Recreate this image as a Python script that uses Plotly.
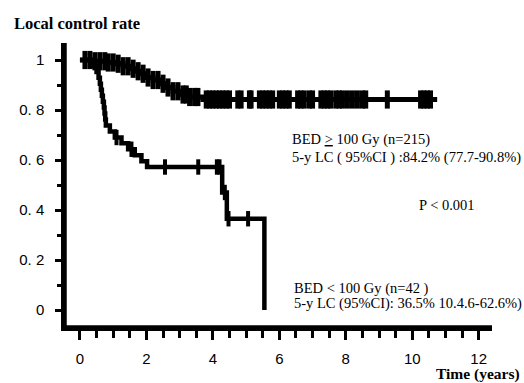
import numpy as np
import plotly.graph_objects as go

# ---- data ----
up_t = [0, 0.4, 0.8, 1.1, 1.3, 1.5, 1.7, 1.85, 2.0, 2.2, 2.4, 2.6, 2.8, 3.0, 3.3, 3.7, 10.75]
up_s = [1.0, 0.995, 0.99, 0.985, 0.975, 0.965, 0.955, 0.945, 0.93, 0.92, 0.905, 0.89, 0.875, 0.862, 0.852, 0.842, 0.842]
up_censor = [0.15, 0.3, 0.45, 0.6, 0.75, 0.85, 1.0, 1.15, 1.3, 1.45, 1.6, 1.75, 1.9, 2.05, 2.2,
             2.35, 2.5, 2.65, 2.8, 2.95, 3.1, 3.2, 3.3, 3.45, 3.55, 3.8, 3.9, 4.0, 4.1, 4.2,
             4.3, 4.4, 4.5, 4.75, 4.85, 5.1, 5.15, 5.4, 5.5, 5.6, 5.7, 5.8, 6.0, 6.1, 6.2,
             6.3, 6.55, 6.65, 6.75, 6.9, 7.0, 7.25, 7.35, 7.45, 7.55, 7.7, 7.8, 7.9, 8.05,
             8.2, 8.35, 8.5, 8.6, 9.25, 10.25, 10.35, 10.45, 10.55]

lo_t = [0, 0.4, 0.5, 0.56, 0.6, 0.63, 0.66, 0.69, 0.72, 0.74, 0.76, 0.78, 0.9, 1.05, 1.25,
        1.45, 1.65, 1.85, 2.02, 4.28, 4.42, 5.55]
lo_s = [1.0, 0.976, 0.952, 0.929, 0.905, 0.881, 0.857, 0.833, 0.81, 0.786, 0.762, 0.738,
        0.714, 0.69, 0.667, 0.643, 0.619, 0.595, 0.572, 0.47, 0.365, 0.0]
lo_censor = [1.1, 1.55, 2.56, 3.56, 4.12, 4.2, 4.36, 4.47, 5.06]

y_ticks = [0, 0.2, 0.4, 0.6, 0.8, 1]
y_ticktext = ["0", "0. 2", "0. 4", "0. 6", "0. 8", "1"]
x_ticks = [0, 2, 4, 6, 8, 10, 12]


def step_value(ts, ss, t):
    i = np.searchsorted(np.array(ts), t, side="right") - 1
    return ss[max(i, 0)]


SERIF = "Liberation Serif, Times New Roman, serif"
SANS = "Liberation Sans, Arial, sans-serif"

fig = go.Figure()
fig.add_trace(go.Scatter(x=up_t, y=up_s, mode="lines", line=dict(color="black", width=5, shape="hv"),
                         showlegend=False, hoverinfo="skip"))
fig.add_trace(go.Scatter(x=lo_t, y=lo_s, mode="lines", line=dict(color="black", width=4.5, shape="hv"),
                         showlegend=False, hoverinfo="skip"))
fig.add_trace(go.Scatter(x=up_censor, y=[step_value(up_t, up_s, t) for t in up_censor], mode="markers",
                         marker=dict(symbol="line-ns", size=13, line=dict(color="black", width=5)),
                         showlegend=False, hoverinfo="skip"))
fig.add_trace(go.Scatter(x=lo_censor, y=[step_value(lo_t, lo_s, t) for t in lo_censor], mode="markers",
                         marker=dict(symbol="line-ns", size=11, line=dict(color="black", width=4)),
                         showlegend=False, hoverinfo="skip"))

fig.update_layout(
    width=524, height=383,
    margin=dict(l=65, r=32, t=43, b=56, autoexpand=False),
    paper_bgcolor="white", plot_bgcolor="white",
    xaxis=dict(range=[-0.45, 12.4], tickvals=x_ticks, showgrid=False, zeroline=False,
               showline=True, linewidth=3.5, linecolor="black",
               ticks="outside", ticklen=9, tickwidth=3, tickcolor="black",
               minor=dict(dtick=0.5, tick0=0, ticks="outside", ticklen=7, tickwidth=3, tickcolor="black"),
               tickfont=dict(family=SANS, size=15, color="black"), ticklabelstandoff=6),
    yaxis=dict(range=[-0.068, 1.068], tickvals=y_ticks, ticktext=y_ticktext, showgrid=False,
               zeroline=False, showline=True, linewidth=3.5, linecolor="black",
               ticks="outside", ticklen=6, tickwidth=3, tickcolor="black",
               minor=dict(dtick=0.1, tick0=0, ticks="outside", ticklen=4, tickwidth=3, tickcolor="black"),
               tickfont=dict(family=SANS, size=15, color="black"), ticklabelstandoff=8),
)

# axis lines (also as shapes, drawn on top)
fig.add_shape(type="line", xref="paper", yref="paper", x0=0, y0=0, x1=1, y1=0,
              line=dict(color="black", width=3.5), layer="above")
fig.add_shape(type="line", xref="paper", yref="paper", x0=0, y0=0, x1=0, y1=1,
              line=dict(color="black", width=3.5), layer="above")

ann = dict(showarrow=False, xanchor="left", yanchor="middle", font=dict(family=SERIF, size=14.5, color="black"))
fig.add_annotation(x=6.33, y=0.684, xref="x", yref="y", text="BED <u>></u> 100 Gy (n=215)", **ann)
fig.add_annotation(x=6.33, y=0.612, xref="x", yref="y", text="5-y LC ( 95%CI ) :84.2% (77.7-90.8%)", **ann)
fig.add_annotation(x=10.15, y=0.42, xref="x", yref="y", text="P < 0.001", **ann)
fig.add_annotation(x=6.39, y=0.088, xref="x", yref="y", text="BED < 100 Gy (n=42 )", **ann)
fig.add_annotation(x=6.39, y=0.028, xref="x", yref="y", text="5-y LC (95%CI): 36.5% 10.4.6-62.6%)", **ann)
fig.add_annotation(x=1.07, y=-0.165, xref="paper", yref="paper", xanchor="right", yanchor="middle",
                   showarrow=False, text="<b>Time (years)</b>", font=dict(family=SERIF, size=15.5, color="black"))
fig.add_annotation(x=-0.124, y=1.07, xref="paper", yref="paper", xanchor="left", yanchor="middle",
                   showarrow=False, text="<b>Local control rate</b>", font=dict(family=SERIF, size=16.5, color="black"))

fig.write_html("out.html", config={"displayModeBar": False},
               post_script="document.body.style.margin='0';document.body.style.overflow='hidden';")
